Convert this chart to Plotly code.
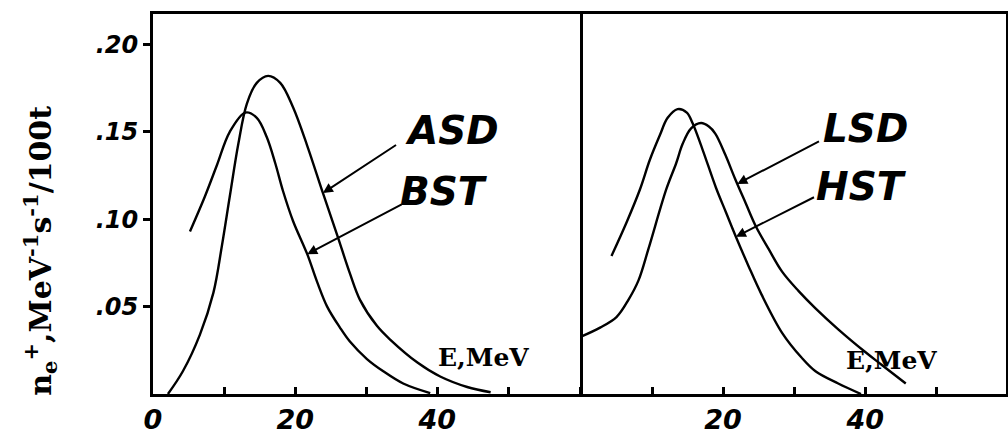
import numpy as np
import plotly.graph_objects as go

# ---- data (E in MeV, n in MeV^-1 s^-1 / 100t) ----
asd_E = [2.1, 4.2, 6.6, 8.5, 9.7, 10.8, 12.0, 13.2, 14.6, 16.2, 17.9, 19.7, 21.7, 23.9,
         25.9, 27.7, 29.1, 31.5, 33.4, 37.2, 40.4, 44.2, 47.5]
asd_n = [0.0, 0.013, 0.034, 0.058, 0.085, 0.113, 0.143, 0.166, 0.178, 0.182, 0.178, 0.164,
         0.142, 0.115, 0.091, 0.069, 0.054, 0.039, 0.031, 0.018, 0.010, 0.004, 0.001]

bst_E = [5.2, 7.3, 9.0, 10.8, 13.0, 14.6, 16.0, 17.2, 18.3, 19.7, 21.7, 23.1, 24.5, 26.3,
         27.7, 30.1, 32.4, 35.2, 39.0]
bst_n = [0.093, 0.113, 0.131, 0.150, 0.161, 0.158, 0.147, 0.132, 0.116, 0.099, 0.080, 0.064,
         0.050, 0.038, 0.030, 0.020, 0.013, 0.006, 0.0005]

lsd_E = [0.1, 2.7, 5.0, 6.7, 8.1, 9.5, 12.0, 13.4, 14.3, 15.5, 16.9, 18.0, 18.9, 20.3, 21.7,
         23.2, 24.6, 26.4, 28.3, 30.6, 33.0, 36.2, 40.0, 42.2, 45.7]
lsd_n = [0.033, 0.038, 0.044, 0.054, 0.065, 0.083, 0.117, 0.132, 0.143, 0.152, 0.155, 0.153,
         0.149, 0.137, 0.123, 0.109, 0.096, 0.083, 0.070, 0.059, 0.049, 0.037, 0.024, 0.017, 0.006]

hst_E = [4.3, 6.4, 8.3, 9.7, 11.1, 12.2, 13.6, 14.9, 15.7, 17.1, 19.0, 20.4, 21.8, 23.6,
         25.4, 28.3, 31.0, 33.0, 36.2, 39.4]
hst_n = [0.079, 0.098, 0.117, 0.134, 0.148, 0.158, 0.163, 0.161, 0.155, 0.140, 0.118, 0.104,
         0.090, 0.073, 0.057, 0.035, 0.021, 0.013, 0.006, 0.0]

# labels: name, panel, label position (E, n), arrow tail (E, n), arrow target E on curve
label_names = ["ASD", "BST", "LSD", "HST"]
label_panel = [1, 1, 2, 2]
label_E = [42.0, 41.0, 40.0, 39.5]
label_n = [0.151, 0.116, 0.152, 0.119]
tail_E = [34.4, 35.2, 33.7, 33.0]
tail_n = [0.143, 0.109, 0.145, 0.113]
target_E = [23.9, 21.7, 22.0, 21.8]

y_tickvals = [0.05, 0.10, 0.15, 0.20]
y_ticktext = [".05", ".10", ".15", ".20"]
x_tickvals = [0, 10, 20, 30, 40, 50]
x_ticktext_left = ["0", " ", "20", " ", "40", " "]
x_ticktext_right = [" ", " ", "20", " ", "40", " "]

curves = {"ASD": (asd_E, asd_n, 1), "BST": (bst_E, bst_n, 1),
          "LSD": (lsd_E, lsd_n, 2), "HST": (hst_E, hst_n, 2)}

fig = go.Figure()
for name, (E, n, p) in curves.items():
    fig.add_trace(go.Scatter(x=E, y=n, mode="lines", name=name,
                             line=dict(color="black", width=2.4, shape="spline", smoothing=1.0),
                             xaxis="x" if p == 1 else "x2", yaxis="y" if p == 1 else "y2",
                             showlegend=False, hoverinfo="skip"))

tickfont = dict(family="DejaVu Sans", size=26, color="black", weight="bold", style="italic")
axis_common = dict(showline=True, linecolor="black", linewidth=3,
                   showgrid=False, zeroline=False)

fig.update_layout(
    width=1008, height=437,
    margin=dict(l=153, r=2, t=14, b=36),
    paper_bgcolor="white", plot_bgcolor="white",
    xaxis=dict(domain=[0, 0.5], range=[0, 60], tickvals=x_tickvals, ticktext=x_ticktext_left,
               ticks="inside", ticklen=7, tickwidth=2.5, tickcolor="black", mirror=True,
               tickfont=dict(tickfont, size=27), **axis_common),
    xaxis2=dict(domain=[0.5, 1], range=[-0.2, 59.8], tickvals=x_tickvals, ticktext=x_ticktext_right,
                ticks="inside", ticklen=7, tickwidth=2.5, tickcolor="black", mirror=True,
                tickfont=dict(tickfont, size=27), anchor="y2", **axis_common),
    yaxis=dict(range=[0, 0.2174], tickvals=y_tickvals, ticktext=y_ticktext,
               ticks="outside", ticklen=7, tickwidth=2.5, tickcolor="black", mirror=True,
               tickfont=dict(tickfont, size=24), **axis_common),
    yaxis2=dict(range=[0, 0.2174], anchor="x2", side="right", showticklabels=False, ticks="",
                mirror=False, **axis_common),
)

label_font = dict(family="DejaVu Sans", size=39, color="black", weight="bold", style="italic")
curve_lookup = {"ASD": (asd_E, asd_n), "BST": (bst_E, bst_n),
                "LSD": (lsd_E, lsd_n), "HST": (hst_E, hst_n)}
for i, name in enumerate(label_names):
    xr = "x" if label_panel[i] == 1 else "x2"
    yr = "y" if label_panel[i] == 1 else "y2"
    E, n = curve_lookup[name]
    ty = float(np.interp(target_E[i], E, n))
    fig.add_annotation(x=label_E[i], y=label_n[i], xref=xr, yref=yr, text=name,
                       showarrow=False, font=label_font)
    fig.add_annotation(x=target_E[i], y=ty, ax=tail_E[i], ay=tail_n[i], xref=xr, yref=yr,
                       axref=xr, ayref=yr, text="", showarrow=True, arrowhead=2,
                       arrowsize=1.0, arrowwidth=2, arrowcolor="black")

emev_font = dict(family="DejaVu Serif", size=25, color="black", weight="bold")
fig.add_annotation(x=46.5, y=0.021, xref="x", yref="y", text="E,MeV", showarrow=False, font=emev_font)
fig.add_annotation(x=43.7, y=0.019, xref="x2", yref="y2", text="E,MeV", showarrow=False, font=emev_font)

fig.add_annotation(x=-0.1325, y=0.377, xref="paper", yref="paper", textangle=-90,
                   text="n<sub>e</sub><sup>+</sup>,MeV<sup>-1</sup>s<sup>-1</sup>/100t",
                   showarrow=False, xanchor="center", yanchor="middle",
                   font=dict(family="DejaVu Serif", size=30, color="black", weight="bold"))

fig.write_html("out.html", config={"displayModeBar": False},
               post_script="document.body.style.margin='0';document.body.style.overflow='hidden';")
